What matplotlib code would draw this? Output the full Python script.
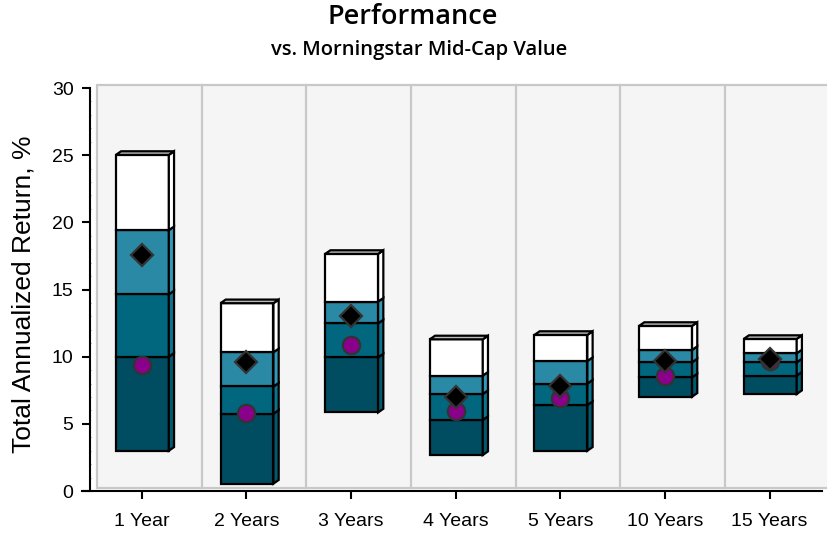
import matplotlib
matplotlib.use("Agg")
import matplotlib.pyplot as plt
from matplotlib.patches import Rectangle, Polygon
from matplotlib.ticker import MultipleLocator

categories = ["1 Year", "2 Years", "3 Years", "4 Years", "5 Years", "10 Years", "15 Years"]
# percentile band edges (bottom -> top) for each period
p_low   = [3.0, 0.55, 5.85, 2.68, 3.0, 7.02, 7.22]
p_q1    = [10.0, 5.75, 9.95, 5.29, 6.4, 8.46, 8.59]
p_med   = [14.64, 7.78, 12.48, 7.22, 8.0, 9.58, 9.58]
p_q3    = [19.42, 10.33, 14.1, 8.59, 9.68, 10.5, 10.25]
p_high  = [25.02, 13.98, 17.65, 11.29, 11.62, 12.29, 11.32]
fund    = [17.57, 9.63, 13.05, 7.02, 7.84, 9.68, 9.8]      # diamonds
bench   = [9.38, 5.78, 10.85, 5.96, 6.95, 8.56, 9.65]      # circles
yticks  = [0, 5, 10, 15, 20, 25, 30]

face_cols = ["#004d61", "#00677f", "#2a89a5", "#ffffff"]
side_cols = ["#005a70", "#0a7590", "#3499b6", "#ffffff"]

SANS = ["Liberation Sans", "DejaVu Sans"]
TITLE = ["Open Sans", "Liberation Sans", "DejaVu Sans"]

fig = plt.figure(figsize=(8.27, 5.34), dpi=100)
ax = fig.add_axes([89.5/827, 1-491/534, (822-89.5)/827, (491-88)/534])
ax.set_xlim(-0.5, 6.5)
ax.set_ylim(0, 30)

# back wall
wall_x0, wall_shift = -0.427, 0.073
ax.add_patch(Rectangle((wall_x0, 0.22), 7.2, 30.0, facecolor="#f5f5f5",
                       edgecolor="#c8c8c8", lw=1.6, zorder=0, clip_on=False))
for i in range(len(categories) - 1):
    ax.plot([i + 0.5 + wall_shift] * 2, [0.22, 30.22], color="#c8c8c8", lw=1.6,
            zorder=0.5, clip_on=False)

w = 0.506
dx, dy = 0.05, 0.27
lw = 1.6
for i in range(len(categories)):
    edges = [p_low[i], p_q1[i], p_med[i], p_q3[i], p_high[i]]
    x0 = i - w / 2 + 0.005
    x1 = x0 + w
    for k in range(4):
        y0, y1 = edges[k], edges[k + 1]
        ax.add_patch(Rectangle((x0, y0), w, y1 - y0, facecolor=face_cols[k],
                               edgecolor="black", lw=lw, zorder=2, joinstyle="miter"))
        ax.add_patch(Polygon([(x1, y0), (x1 + dx, y0 + dy), (x1 + dx, y1 + dy), (x1, y1)],
                             closed=True, facecolor=side_cols[k], edgecolor="black",
                             lw=lw, zorder=2))
    yt = edges[-1]
    ax.add_patch(Polygon([(x0, yt), (x0 + dx, yt + dy), (x1 + dx, yt + dy), (x1, yt)],
                         closed=True, facecolor="#bbbbbb", edgecolor="black", lw=lw, zorder=2))

xs = list(range(len(categories)))
ax.plot(xs, bench, linestyle="none", marker="o", markersize=12.5,
        markerfacecolor="#8a008a", markeredgecolor="#333333", markeredgewidth=1.6, zorder=4)
ax.plot(xs, fund, linestyle="none", marker="D", markersize=11.5,
        markerfacecolor="black", markeredgecolor="#333333", markeredgewidth=1.6, zorder=5)

for s in ["top", "right"]:
    ax.spines[s].set_visible(False)
ax.spines["left"].set_linewidth(1.5)
ax.spines["bottom"].set_linewidth(1.5)
ax.spines["bottom"].set_bounds(-0.5 - 7.5/104.7, 6.5)
ax.set_facecolor("none")

ax.set_yticks(yticks)
ax.yaxis.set_minor_locator(MultipleLocator(1))
ax.tick_params(axis="y", which="minor", length=2, width=0.6, direction="inout", color="#777777")
ax.set_xticks(xs)
ax.set_xticklabels(categories)
ax.tick_params(axis="both", which="major", length=5.5, width=1.5, labelsize=14, pad=6)
ax.tick_params(axis="x", which="major", pad=10)
for lab in ax.get_xticklabels() + ax.get_yticklabels():
    lab.set_fontfamily(SANS)

fig.text(24/827, 1 - 294/534, "Total Annualized Return, %", rotation=90,
         ha="center", va="center", fontsize=19, fontfamily=SANS)

fig.text(413/827, 1 - 17/534, "Performance", ha="center", va="center", fontsize=19.5,
         fontweight="semibold", fontfamily=TITLE)
fig.text(419/827, 1 - 50/534, "vs. Morningstar Mid-Cap Value", ha="center", va="center",
         fontsize=14.5, fontweight="semibold", fontfamily=TITLE)

fig.savefig("out.png", dpi=100)
